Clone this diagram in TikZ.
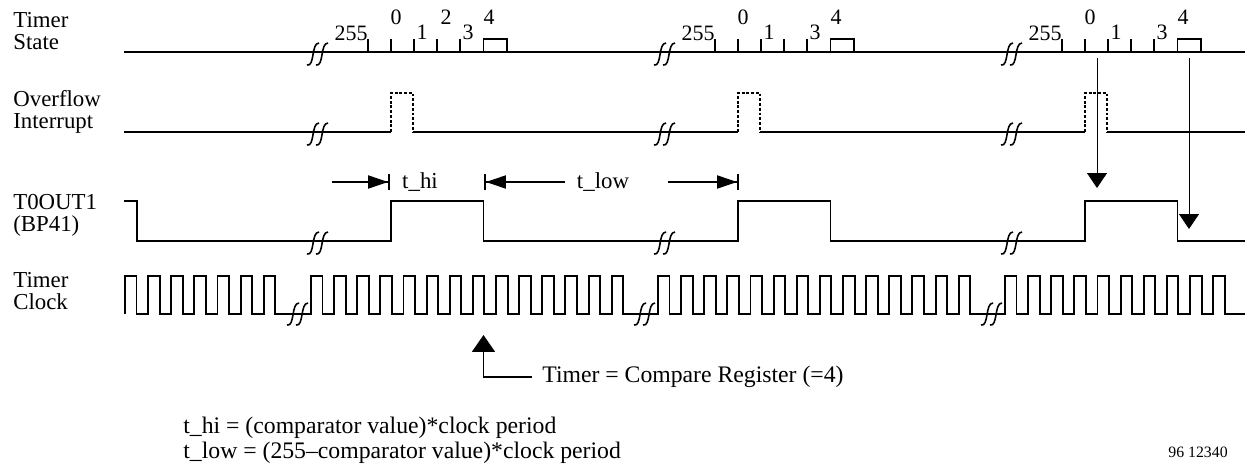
\documentclass[tikz,border=0pt]{standalone}
\usepackage{fontspec}
\setmainfont{Liberation Serif}
\usetikzlibrary{arrows.meta}

\tikzset{
  sig/.style={line width=1.1pt},
  irq/.style={line width=1.1pt, dash pattern=on 1.6pt off 1.1pt},
  brk/.style={line width=0.9pt},
  lbl/.style={align=left, anchor=west, inner sep=0pt, font=\fontsize{13}{12.5}\selectfont},
  big/.style={lbl, font=\fontsize{13.5}{14}\selectfont},
  cnt/.style={inner sep=0pt, font=\fontsize{12.5}{13}\selectfont},
  dim/.style={line width=1.1pt, -{Triangle[length=4mm,width=2.6mm]Bar[width=3.4mm]}},
  pick/.style={line width=0.5pt, -{Triangle[length=3mm,width=4mm]}},
  brkmark/.pic={
    \draw[brk] (-10,13) .. controls (-2,15) and (-6,-9) .. (2,-9);
    \draw[brk] (-1,13) .. controls (7,15) and (3,-9) .. (11,-9);
  }
}

\begin{document}
\begin{tikzpicture}[x=0.02cm, y=-0.02cm]
    \useasboundingbox (0,0) rectangle (1252,470);

    % Signal names
    \node[lbl] (lstate) at (13,31) {Timer\\State};
    \node[lbl] (lirq) at (13,112) {Overflow\\Interrupt};
    \node[lbl] (lout) at (13,215) {T0OUT1\\(BP41)};
    \node[lbl] (lclk) at (13,291) {Timer\\Clock};

    % Timer state
    \draw[sig] (124,52) -- (1245,52);
    \foreach \o/\g in {391/a,738/b,1085/c} {
      \foreach \k in {-1,...,3}
        \draw[sig] ({\o+\k*23.13},52) -- ++(0,-13);
      \draw[sig] ({\o+4*23.13},52) -- ++(0,-13) -- ({\o+5*23.13},39) -- ++(0,13);
      \node[cnt, anchor=base east] (n255\g) at ({\o-23.13},40) {255};
      \node[cnt, anchor=base] (n0\g) at ({\o+5},25) {0};
      \node[cnt, anchor=base] (n1\g) at ({\o+31},39) {1};
      \node[cnt, anchor=base] (n3\g) at ({\o+77},39) {3};
      \node[cnt, anchor=base] (n4\g) at ({\o+98},25) {4};
    }
    \node[cnt, anchor=base] (n2a) at (446,25) {2};

    % Overflow interrupt
    \draw[sig] (124,132) -- (391,132) (413,132) -- (738,132) (760,132) -- (1085,132) (1107,132) -- (1245,132);
    \foreach \o in {391,738,1085}
      \draw[irq] (\o,132) -- (\o,93) -- ({\o+22},93) -- ({\o+22},132);

    % T0OUT1 output
    \draw[sig] (124,201) -- (137,201) -- (137,241) -- (391,241) -- (391,201) -- (483.5,201) -- (483.5,241)
      -- (738,241) -- (738,201) -- (830.5,201) -- (830.5,241)
      -- (1085,241) -- (1085,201) -- (1177.5,201) -- (1177.5,241) -- (1245,241);

    % Timer clock
    \draw[sig] (125,314)
      \foreach \k in {1,...,7} { -- ++(0,-38) -- ++(11.5,0) -- ++(0,38) -- ++(11.63,0) }
      -- (311,314)
      \foreach \k in {1,...,14} { -- ++(0,-38) -- ++(11.5,0) -- ++(0,38) -- ++(11.63,0) }
      -- (658,314)
      \foreach \k in {1,...,14} { -- ++(0,-38) -- ++(11.5,0) -- ++(0,38) -- ++(11.63,0) }
      -- (1005,314)
      \foreach \k in {1,...,10} { -- ++(0,-38) -- ++(11.5,0) -- ++(0,38) -- ++(11.63,0) }
      -- (1245,314);

    % Break marks
    \foreach \b in {0,347,694} {
      \pic at ({317+\b},52) {brkmark};
      \pic at ({317+\b},132) {brkmark};
      \pic at ({317+\b},241) {brkmark};
      \pic at ({297+\b},312) {brkmark};
    }

    % High and low times
    \node[lbl, anchor=center] (thi) at (420,182) {t\_hi};
    \node[lbl, anchor=center] (tlow) at (603,182) {t\_low};
    \coordinate (hiL) at (332,182);
    \coordinate (hiR) at (390,182);
    \coordinate (loL) at (484,182);
    \coordinate (loM) at (565,182);
    \coordinate (loN) at (668,182);
    \coordinate (loR) at (739,182);
    \draw[dim] (hiL) -- (hiR);
    \draw[dim] (loM) -- (loL);
    \draw[dim] (loN) -- (loR);

    % Overflow sets, compare clears
    \coordinate (st0) at (1097,58);
    \coordinate (out0) at (1097,188);
    \coordinate (st4) at (1189,58);
    \coordinate (out4) at (1189,229);
    \draw[pick] (st0) -- (out0);
    \draw[pick] (st4) -- (out4);

    % Compare match
    \node[big, inner xsep=0.2cm] (cmp) at (532,377) {Timer = Compare Register (=4)};
    \coordinate (cmpTip) at (483.5,335);
    \draw[line width=1.1pt, -{Triangle[length=3.4mm,width=4.6mm]}] (cmp.west) -| (cmpTip);

    % Formulas
    \node[big] (form) at (183,440) {t\_hi = (comparator value)*clock period\\t\_low = (255--comparator value)*clock period};
    \node[cnt, anchor=base east, font=\fontsize{9}{10}\selectfont] (fig) at (1228,457) {96 12340};

\end{tikzpicture}
\end{document}
